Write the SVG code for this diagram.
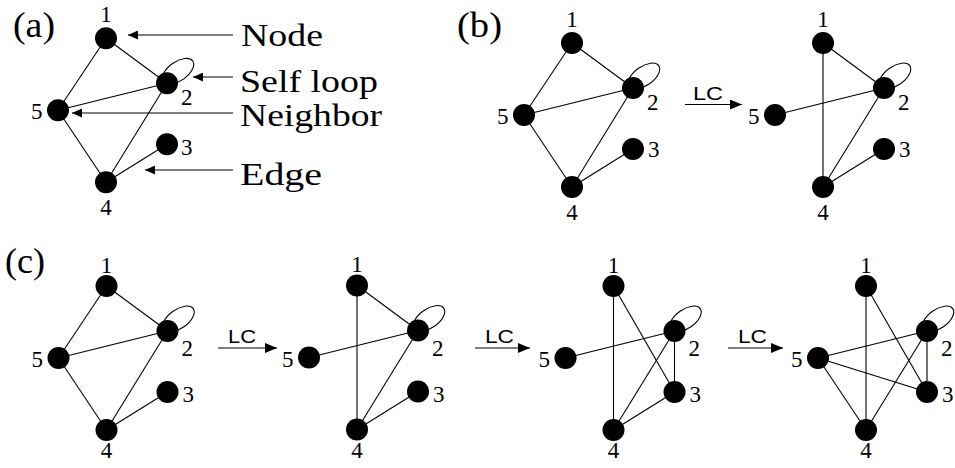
<svg xmlns="http://www.w3.org/2000/svg" width="955" height="468" viewBox="0 0 955 468">
<defs>
<style>
.e{stroke:#000;stroke-width:1.1;fill:none}
.n{fill:#000}
.d{font-size:23px;fill:#000}
.p{font-size:36px;fill:#000}
.t{font-size:30.5px;fill:#000}
.lc{font-size:18px;fill:#000}
.a{stroke:#000;stroke-width:1.1;fill:none;marker-end:url(#ah)}
.la{stroke:#000;stroke-width:1.2;fill:none;marker-end:url(#lh)}
</style>
<marker id="ah" markerUnits="userSpaceOnUse" markerWidth="10" markerHeight="9" refX="10" refY="4.5" orient="auto"><path d="M0,0 L10,4.5 L0,9 z" fill="#000"/></marker>
<marker id="lh" markerUnits="userSpaceOnUse" markerWidth="12" markerHeight="10" refX="12" refY="5" orient="auto"><path d="M0,0 L12,5 L0,10 z" fill="#000"/></marker>
</defs>
<rect width="955" height="468" fill="#fff"/>

<g font-family="'Liberation Serif', 'Times New Roman', 'DejaVu Serif', serif">
<!-- panel labels -->
<text class="p" x="13" y="37" textLength="42" lengthAdjust="spacingAndGlyphs">(a)</text>
<text class="p" x="457" y="37" textLength="45" lengthAdjust="spacingAndGlyphs">(b)</text>
<text class="p" x="5" y="273" textLength="40" lengthAdjust="spacingAndGlyphs">(c)</text>

<!-- annotations -->
<g id="annotations">
<text class="t" x="241" y="46" textLength="82" lengthAdjust="spacingAndGlyphs">Node</text>
<text class="t" x="240" y="91.5" textLength="138" lengthAdjust="spacingAndGlyphs">Self loop</text>
<text class="t" x="240" y="125.5" textLength="142" lengthAdjust="spacingAndGlyphs">Neighbor</text>
<text class="t" x="240" y="185" textLength="82" lengthAdjust="spacingAndGlyphs">Edge</text>
<line class="a" x1="233" y1="35" x2="128" y2="35"/>
<line class="a" x1="233" y1="77" x2="193" y2="77"/>
<line class="a" x1="233" y1="113" x2="72" y2="113"/>
<line class="a" x1="233" y1="170" x2="145" y2="170"/>
</g>
</g>

<!-- LC arrows -->
<g id="lc-arrows" font-family="'Liberation Sans', Arial, sans-serif">
<line class="la" x1="685" y1="104.5" x2="742" y2="104.5"/>
<text class="lc" x="693" y="99.5" textLength="30" lengthAdjust="spacingAndGlyphs">LC</text>
<line class="la" x1="218" y1="348" x2="277" y2="348"/>
<text class="lc" x="228" y="343" textLength="28" lengthAdjust="spacingAndGlyphs">LC</text>
<line class="la" x1="475" y1="348" x2="530" y2="348"/>
<text class="lc" x="485" y="343" textLength="29" lengthAdjust="spacingAndGlyphs">LC</text>
<line class="la" x1="728" y1="348" x2="783" y2="348"/>
<text class="lc" x="738" y="343" textLength="29" lengthAdjust="spacingAndGlyphs">LC</text>
</g>

<!-- connectors -->
<g id="connectors">
<g transform="translate(106,38.3)">
<line class="e" x1="0" y1="0" x2="61" y2="45"/><line class="e" x1="0" y1="0" x2="-48" y2="72"/><line class="e" x1="-48" y1="72" x2="61" y2="45"/><line class="e" x1="-48" y1="72" x2="0" y2="144"/><line class="e" x1="61" y1="45" x2="0" y2="144"/><line class="e" x1="0" y1="144" x2="61" y2="106"/>
<ellipse class="e" cx="72" cy="33" rx="18" ry="9.5" transform="rotate(-35 72 33)"/>
</g>
<g transform="translate(572,43)">
<line class="e" x1="0" y1="0" x2="61" y2="45"/><line class="e" x1="0" y1="0" x2="-48" y2="72"/><line class="e" x1="-48" y1="72" x2="61" y2="45"/><line class="e" x1="-48" y1="72" x2="0" y2="144"/><line class="e" x1="61" y1="45" x2="0" y2="144"/><line class="e" x1="0" y1="144" x2="61" y2="106"/>
<ellipse class="e" cx="72" cy="33" rx="18" ry="9.5" transform="rotate(-35 72 33)"/>
</g>
<g transform="translate(823,43)">
<line class="e" x1="0" y1="0" x2="61" y2="45"/><line class="e" x1="0" y1="0" x2="0" y2="144"/><line class="e" x1="-48" y1="72" x2="61" y2="45"/><line class="e" x1="61" y1="45" x2="0" y2="144"/><line class="e" x1="0" y1="144" x2="61" y2="106"/>
<ellipse class="e" cx="72" cy="33" rx="18" ry="9.5" transform="rotate(-35 72 33)"/>
</g>
<g transform="translate(106.5,286)">
<line class="e" x1="0" y1="0" x2="61" y2="45"/><line class="e" x1="0" y1="0" x2="-48" y2="72"/><line class="e" x1="-48" y1="72" x2="61" y2="45"/><line class="e" x1="-48" y1="72" x2="0" y2="144"/><line class="e" x1="61" y1="45" x2="0" y2="144"/><line class="e" x1="0" y1="144" x2="61" y2="106"/>
<ellipse class="e" cx="72" cy="33" rx="18" ry="9.5" transform="rotate(-35 72 33)"/>
</g>
<g transform="translate(357,285.5)">
<line class="e" x1="0" y1="0" x2="61" y2="45"/><line class="e" x1="0" y1="0" x2="0" y2="144"/><line class="e" x1="-48" y1="72" x2="61" y2="45"/><line class="e" x1="61" y1="45" x2="0" y2="144"/><line class="e" x1="0" y1="144" x2="61" y2="106"/>
<ellipse class="e" cx="72" cy="33" rx="18" ry="9.5" transform="rotate(-35 72 33)"/>
</g>
<g transform="translate(613.5,286)">
<line class="e" x1="0" y1="0" x2="0" y2="144"/><line class="e" x1="0" y1="0" x2="61" y2="106"/><line class="e" x1="-48" y1="72" x2="61" y2="45"/><line class="e" x1="61" y1="45" x2="0" y2="144"/><line class="e" x1="61" y1="45" x2="61" y2="106"/><line class="e" x1="0" y1="144" x2="61" y2="106"/>
<ellipse class="e" cx="72" cy="33" rx="18" ry="9.5" transform="rotate(-35 72 33)"/>
</g>
<g transform="translate(866,286)">
<line class="e" x1="0" y1="0" x2="0" y2="144"/><line class="e" x1="0" y1="0" x2="61" y2="106"/><line class="e" x1="-48" y1="72" x2="61" y2="45"/><line class="e" x1="-48" y1="72" x2="61" y2="106"/><line class="e" x1="-48" y1="72" x2="0" y2="144"/><line class="e" x1="61" y1="45" x2="0" y2="144"/><line class="e" x1="61" y1="45" x2="61" y2="106"/>
<ellipse class="e" cx="72" cy="33" rx="18" ry="9.5" transform="rotate(-35 72 33)"/>
</g>
</g>

<g id="nodes" font-family="'Liberation Serif', 'Times New Roman', 'DejaVu Serif', serif">
<!-- graph a -->
<g transform="translate(106,38.3)">
<g id="a-n1"><circle class="n" cx="0" cy="0" r="11"/><text class="d" x="0" y="-16.5" text-anchor="middle">1</text></g>
<g id="a-n2"><circle class="n" cx="61" cy="45" r="11"/><text class="d" x="75" y="67">2</text></g>
<g id="a-n3"><circle class="n" cx="61" cy="106" r="11"/><text class="d" x="75" y="117">3</text></g>
<g id="a-n4"><circle class="n" cx="0" cy="144" r="11"/><text class="d" x="0" y="177" text-anchor="middle">4</text></g>
<g id="a-n5"><circle class="n" cx="-48" cy="72" r="11"/><text class="d" x="-63.5" y="80.5" text-anchor="end">5</text></g>
</g>
<!-- graph b1 -->
<g transform="translate(572,43)">
<g id="b1-n1"><circle class="n" cx="0" cy="0" r="11"/><text class="d" x="0" y="-16.5" text-anchor="middle">1</text></g>
<g id="b1-n2"><circle class="n" cx="61" cy="45" r="11"/><text class="d" x="75" y="67">2</text></g>
<g id="b1-n3"><circle class="n" cx="61" cy="106" r="11"/><text class="d" x="76" y="114">3</text></g>
<g id="b1-n4"><circle class="n" cx="0" cy="144" r="11"/><text class="d" x="0" y="177" text-anchor="middle">4</text></g>
<g id="b1-n5"><circle class="n" cx="-48" cy="72" r="11"/><text class="d" x="-63.5" y="80.5" text-anchor="end">5</text></g>
</g>
<!-- graph b2 -->
<g transform="translate(823,43)">
<g id="b2-n1"><circle class="n" cx="0" cy="0" r="11"/><text class="d" x="0" y="-16.5" text-anchor="middle">1</text></g>
<g id="b2-n2"><circle class="n" cx="61" cy="45" r="11"/><text class="d" x="75" y="67">2</text></g>
<g id="b2-n3"><circle class="n" cx="61" cy="106" r="11"/><text class="d" x="76" y="114">3</text></g>
<g id="b2-n4"><circle class="n" cx="0" cy="144" r="11"/><text class="d" x="0" y="177" text-anchor="middle">4</text></g>
<g id="b2-n5"><circle class="n" cx="-48" cy="72" r="11"/><text class="d" x="-63.5" y="80.5" text-anchor="end">5</text></g>
</g>
<!-- graph c1 -->
<g transform="translate(106.5,286)">
<g id="c1-n1"><circle class="n" cx="0" cy="0" r="11"/><text class="d" x="0" y="-13.5" text-anchor="middle">1</text></g>
<g id="c1-n2"><circle class="n" cx="61" cy="45" r="11"/><text class="d" x="75" y="70">2</text></g>
<g id="c1-n3"><circle class="n" cx="61" cy="106" r="11"/><text class="d" x="76" y="116">3</text></g>
<g id="c1-n4"><circle class="n" cx="0" cy="144" r="11"/><text class="d" x="0" y="172" text-anchor="middle">4</text></g>
<g id="c1-n5"><circle class="n" cx="-48" cy="72" r="11"/><text class="d" x="-63.5" y="81" text-anchor="end">5</text></g>
</g>
<!-- graph c2 -->
<g transform="translate(357,285.5)">
<g id="c2-n1"><circle class="n" cx="0" cy="0" r="11"/><text class="d" x="0" y="-13.5" text-anchor="middle">1</text></g>
<g id="c2-n2"><circle class="n" cx="61" cy="45" r="11"/><text class="d" x="75" y="70">2</text></g>
<g id="c2-n3"><circle class="n" cx="61" cy="106" r="11"/><text class="d" x="76" y="116">3</text></g>
<g id="c2-n4"><circle class="n" cx="0" cy="144" r="11"/><text class="d" x="0" y="172" text-anchor="middle">4</text></g>
<g id="c2-n5"><circle class="n" cx="-48" cy="72" r="11"/><text class="d" x="-63.5" y="81" text-anchor="end">5</text></g>
</g>
<!-- graph c3 -->
<g transform="translate(613.5,286)">
<g id="c3-n1"><circle class="n" cx="0" cy="0" r="11"/><text class="d" x="0" y="-13.5" text-anchor="middle">1</text></g>
<g id="c3-n2"><circle class="n" cx="61" cy="45" r="11"/><text class="d" x="75" y="70">2</text></g>
<g id="c3-n3"><circle class="n" cx="61" cy="106" r="11"/><text class="d" x="76" y="116">3</text></g>
<g id="c3-n4"><circle class="n" cx="0" cy="144" r="11"/><text class="d" x="0" y="172" text-anchor="middle">4</text></g>
<g id="c3-n5"><circle class="n" cx="-48" cy="72" r="11"/><text class="d" x="-63.5" y="81" text-anchor="end">5</text></g>
</g>
<!-- graph c4 -->
<g transform="translate(866,286)">
<g id="c4-n1"><circle class="n" cx="0" cy="0" r="11"/><text class="d" x="0" y="-13.5" text-anchor="middle">1</text></g>
<g id="c4-n2"><circle class="n" cx="61" cy="45" r="11"/><text class="d" x="75" y="70">2</text></g>
<g id="c4-n3"><circle class="n" cx="61" cy="106" r="11"/><text class="d" x="76" y="116">3</text></g>
<g id="c4-n4"><circle class="n" cx="0" cy="144" r="11"/><text class="d" x="0" y="172" text-anchor="middle">4</text></g>
<g id="c4-n5"><circle class="n" cx="-48" cy="72" r="11"/><text class="d" x="-63.5" y="81" text-anchor="end">5</text></g>
</g>
</g>
</svg>
